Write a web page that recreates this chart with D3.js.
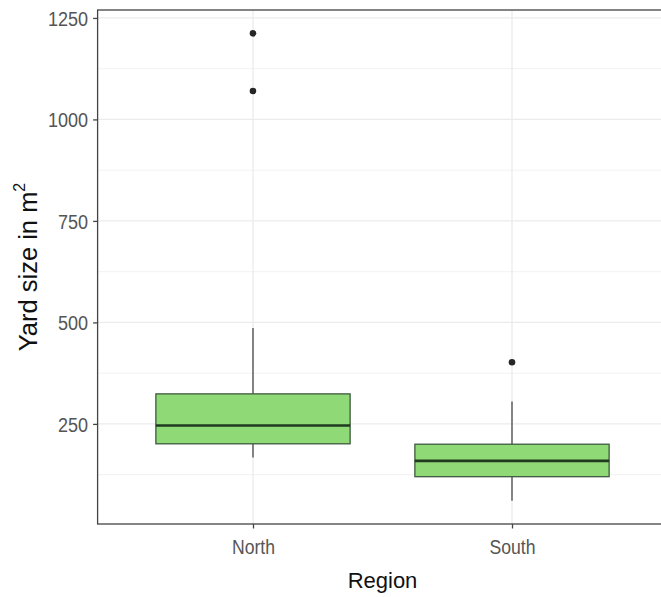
<!DOCTYPE html>
<html>
<head>
<meta charset="utf-8">
<script src="https://cdn.jsdelivr.net/npm/d3@7"></script>
<style>
  html, body { margin: 0; padding: 0; background: #fff; }
  svg { display: block; font-family: "Liberation Sans", Arial, sans-serif; }
</style>
</head>
<body>
<svg id="chart" width="661" height="597"></svg>
<script>
// ---- data ----
const categories   = ["North", "South"];
const whiskerLow   = [167, 61];
const q1           = [201, 120];
const median       = [246, 159];
const q3           = [324, 200];
const whiskerHigh  = [486, 305];
const outliers     = [[1070, 1212], [402]];
const yTicks       = [250, 500, 750, 1000, 1250];
const yMinorTicks  = [125, 375, 625, 875, 1125];

const svg = d3.select("#chart");
const panel = { left: 97.6, right: 667.4, top: 10, bottom: 524 };

// y domain: data range with 5% expansion (ggplot default)
const allVals = whiskerLow.concat(whiskerHigh, outliers.flat());
const dMin = d3.min(allVals), dMax = d3.max(allVals);
const pad = (dMax - dMin) * 0.05;
const y = d3.scaleLinear().domain([dMin - pad, dMax + pad]).range([panel.bottom, panel.top]);
const x = d3.scalePoint().domain(categories).range([panel.left, panel.right]).padding(0.6);
const boxW = x.step() * 0.75;

// clip
svg.append("defs").append("clipPath").attr("id", "clip")
  .append("rect").attr("x", panel.left).attr("y", panel.top)
  .attr("width", panel.right - panel.left).attr("height", panel.bottom - panel.top);

const g = svg.append("g").attr("clip-path", "url(#clip)");

// grid
g.selectAll(".minor").data(yMinorTicks).join("line")
  .attr("x1", panel.left).attr("x2", panel.right)
  .attr("y1", d => y(d)).attr("y2", d => y(d))
  .attr("stroke", "#f2f2f2").attr("stroke-width", 1);
g.selectAll(".major").data(yTicks).join("line")
  .attr("x1", panel.left).attr("x2", panel.right)
  .attr("y1", d => y(d)).attr("y2", d => y(d))
  .attr("stroke", "#ebebeb").attr("stroke-width", 1.3);
g.selectAll(".vmajor").data(categories).join("line")
  .attr("x1", d => x(d)).attr("x2", d => x(d))
  .attr("y1", panel.top).attr("y2", panel.bottom)
  .attr("stroke", "#ebebeb").attr("stroke-width", 1.3);

// boxes
const idx = categories.map((c, i) => i);
g.selectAll(".whisk").data(idx).join("g").each(function(i) {
  const s = d3.select(this);
  const cx = x(categories[i]);
  s.append("line").attr("x1", cx).attr("x2", cx)
    .attr("y1", y(whiskerHigh[i])).attr("y2", y(q3[i]))
    .attr("stroke", "#555").attr("stroke-width", 1.4);
  s.append("line").attr("x1", cx).attr("x2", cx)
    .attr("y1", y(q1[i])).attr("y2", y(whiskerLow[i]))
    .attr("stroke", "#555").attr("stroke-width", 1.4);
  s.append("rect")
    .attr("x", cx - boxW / 2).attr("width", boxW)
    .attr("y", y(q3[i])).attr("height", y(q1[i]) - y(q3[i]))
    .attr("fill", "#8fd977").attr("stroke", "#3d5a3d").attr("stroke-width", 1.3);
  s.append("line")
    .attr("x1", cx - boxW / 2).attr("x2", cx + boxW / 2)
    .attr("y1", y(median[i])).attr("y2", y(median[i]))
    .attr("stroke", "#1f3a1f").attr("stroke-width", 2.6);
  s.selectAll("circle").data(outliers[i]).join("circle")
    .attr("cx", cx).attr("cy", d => y(d)).attr("r", 3.3).attr("fill", "#262626");
});

// panel border (top, left, bottom visible)
svg.append("rect").attr("x", panel.left).attr("y", panel.top)
  .attr("width", panel.right - panel.left).attr("height", panel.bottom - panel.top)
  .attr("fill", "none").attr("stroke", "#444").attr("stroke-width", 1.3);

// axes
const yAxis = svg.append("g").attr("transform", `translate(${panel.left},0)`)
  .call(d3.axisLeft(y).tickValues(yTicks).tickFormat(d3.format("d")).tickSize(4.5).tickPadding(3));
const xAxis = svg.append("g").attr("transform", `translate(0,${panel.bottom})`)
  .call(d3.axisBottom(x).tickSize(4.5).tickPadding(11));
[yAxis, xAxis].forEach(a => {
  a.select(".domain").remove();
  a.selectAll(".tick line").attr("stroke", "#444").attr("stroke-width", 1.3);
  a.selectAll(".tick text").attr("fill", "#555").attr("font-size", 20.5)
    .attr("font-family", "'Liberation Sans', Arial, sans-serif");
});
// condensed tick labels
yAxis.selectAll(".tick text").each(function() {
  d3.select(this).attr("text-anchor", "end").attr("x", null).attr("dy", "0.36em")
    .attr("transform", "translate(-9.5,0) scale(0.88,1)");
});
xAxis.selectAll(".tick text").attr("dy", "0.71em")
  .attr("transform", "scale(0.86,1)");

// axis titles
svg.append("text")
  .attr("x", (panel.left + panel.right) / 2).attr("y", 588)
  .attr("text-anchor", "middle").attr("font-size", 22).attr("fill", "#111")
  .text("Region");

const yt = svg.append("text")
  .attr("transform", `translate(37,${(panel.top + panel.bottom) / 2}) rotate(-90)`)
  .attr("text-anchor", "middle").attr("font-size", 25.5).attr("fill", "#111");
yt.append("tspan").text("Yard size in m");
yt.append("tspan").attr("dy", -12).attr("font-size", 16).text("2");
</script>
</body>
</html>
